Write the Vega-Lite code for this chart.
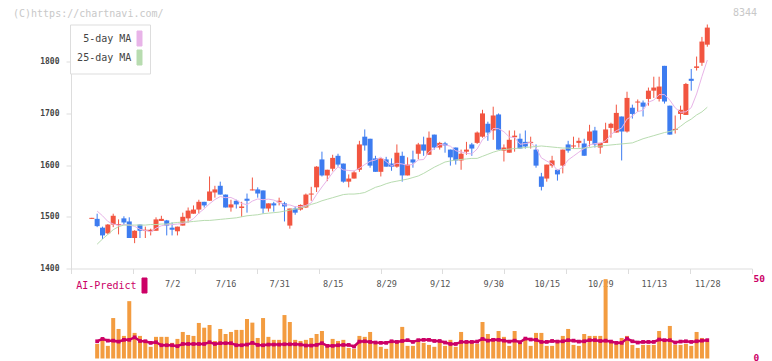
{
"$schema": "https://vega.github.io/schema/vega-lite/v6.json",
"padding": {"left": 13, "top": 7.5, "right": 5, "bottom": 0},
"background": "#ffffff",
"bounds": "flush",
"spacing": 11,
"config": {"view": {"stroke": null}, "font": "DejaVu Sans Mono"},
"resolve": {"scale": {"x": "independent", "y": "independent", "color": "independent"}, "legend": {"color": "independent"}},
"datasets": {"px": [
{"i":0,"d":"2025-06-11","o":1496,"h":1498,"l":1496,"c":1498,"m5":null,"m25":null,"v":null,"a":null},
{"i":1,"d":"2025-06-12","o":1496,"h":1506,"l":1480,"c":1482,"m5":1511,"m25":1447,"v":9.2,"a":10.9},
{"i":2,"d":"2025-06-13","o":1479,"h":1481,"l":1457,"c":1464,"m5":1502,"m25":1457,"v":12.8,"a":12.4},
{"i":3,"d":"2025-06-16","o":1468,"h":1486,"l":1466,"c":1485,"m5":1491,"m25":1466,"v":8.0,"a":11.3},
{"i":4,"d":"2025-06-17","o":1485,"h":1506,"l":1480,"c":1502,"m5":1486.0,"m25":1475,"v":25.6,"a":11.3},
{"i":5,"d":"2025-06-18","o":1484,"h":1495,"l":1466,"c":1486,"m5":1483.6,"m25":1481,"v":18.7,"a":10.7},
{"i":6,"d":"2025-06-19","o":1497,"h":1501,"l":1484,"c":1489,"m5":1485.0,"m25":1484,"v":14.3,"a":11.8},
{"i":7,"d":"2025-06-20","o":1491,"h":1499,"l":1459,"c":1459,"m5":1484.0,"m25":1484,"v":36.3,"a":11.8},
{"i":8,"d":"2025-06-23","o":1459,"h":1474,"l":1449,"c":1473,"m5":1481.6,"m25":1484,"v":16.2,"a":13.4},
{"i":9,"d":"2025-06-24","o":1485,"h":1485,"l":1459,"c":1473,"m5":1475.8,"m25":1484,"v":14.3,"a":11.1},
{"i":10,"d":"2025-06-25","o":1473,"h":1481,"l":1459,"c":1475,"m5":1473.6,"m25":1484,"v":11.8,"a":10.9},
{"i":11,"d":"2025-06-26","o":1472,"h":1477,"l":1464,"c":1475,"m5":1470.8,"m25":1485,"v":7.4,"a":9.9},
{"i":12,"d":"2025-06-27","o":1473,"h":1499,"l":1473,"c":1495,"m5":1478.0,"m25":1485,"v":13.7,"a":10.3},
{"i":13,"d":"2025-06-30","o":1492,"h":1502,"l":1492,"c":1496,"m5":1482.6,"m25":1486,"v":13.7,"a":8.4},
{"i":14,"d":"2025-07-01","o":1493,"h":1494,"l":1464,"c":1483,"m5":1484.6,"m25":1486,"v":13.7,"a":8.4},
{"i":15,"d":"2025-07-02","o":1479,"h":1489,"l":1464,"c":1475,"m5":1484.8,"m25":1488,"v":9.9,"a":8.4},
{"i":16,"d":"2025-07-03","o":1472,"h":1481,"l":1464,"c":1481,"m5":1486.0,"m25":1489,"v":12.4,"a":7.8},
{"i":17,"d":"2025-07-04","o":1483,"h":1508,"l":1483,"c":1500,"m5":1487.0,"m25":1490,"v":16.8,"a":9.2},
{"i":18,"d":"2025-07-07","o":1497,"h":1518,"l":1489,"c":1512,"m5":1490.2,"m25":1490,"v":14.9,"a":9.2},
{"i":19,"d":"2025-07-08","o":1506,"h":1522,"l":1506,"c":1514,"m5":1496.4,"m25":1491,"v":14.3,"a":9.2},
{"i":20,"d":"2025-07-09","o":1514,"h":1533,"l":1506,"c":1529,"m5":1507.2,"m25":1492,"v":22.5,"a":9.2},
{"i":21,"d":"2025-07-10","o":1529,"h":1529,"l":1518,"c":1522,"m5":1515.4,"m25":1493,"v":19.5,"a":9.2},
{"i":22,"d":"2025-07-11","o":1531,"h":1578,"l":1531,"c":1549,"m5":1525.2,"m25":1493,"v":21.2,"a":10.3},
{"i":23,"d":"2025-07-14","o":1547,"h":1560,"l":1537,"c":1553,"m5":1533.4,"m25":1494,"v":11.1,"a":9.2},
{"i":24,"d":"2025-07-15","o":1560,"h":1568,"l":1543,"c":1543,"m5":1539.2,"m25":1495,"v":18.7,"a":9.7},
{"i":25,"d":"2025-07-16","o":1543,"h":1543,"l":1518,"c":1518,"m5":1537.0,"m25":1496,"v":15.5,"a":9.7},
{"i":26,"d":"2025-07-17","o":1518,"h":1533,"l":1510,"c":1524,"m5":1537.4,"m25":1497,"v":16.8,"a":9.7},
{"i":27,"d":"2025-07-18","o":1531,"h":1533,"l":1516,"c":1524,"m5":1532.4,"m25":1498,"v":18.1,"a":8.4},
{"i":28,"d":"2025-07-22","o":1517,"h":1529,"l":1500,"c":1520,"m5":1525.8,"m25":1500,"v":18.1,"a":8.4},
{"i":29,"d":"2025-07-23","o":1535,"h":1545,"l":1508,"c":1531,"m5":1523.4,"m25":1502,"v":25.0,"a":8.8},
{"i":30,"d":"2025-07-24","o":1551,"h":1576,"l":1551,"c":1553,"m5":1530.4,"m25":1503,"v":22.7,"a":9.9},
{"i":31,"d":"2025-07-25","o":1553,"h":1557,"l":1537,"c":1545,"m5":1534.6,"m25":1504,"v":13.0,"a":8.6},
{"i":32,"d":"2025-07-28","o":1551,"h":1551,"l":1506,"c":1516,"m5":1533.0,"m25":1506,"v":25.6,"a":8.4},
{"i":33,"d":"2025-07-29","o":1516,"h":1526,"l":1510,"c":1526,"m5":1534.2,"m25":1507,"v":13.7,"a":8.8},
{"i":34,"d":"2025-07-30","o":1526,"h":1529,"l":1510,"c":1522,"m5":1532.4,"m25":1508,"v":11.8,"a":8.8},
{"i":35,"d":"2025-07-31","o":1528,"h":1537,"l":1522,"c":1531,"m5":1528.0,"m25":1509,"v":11.8,"a":8.8},
{"i":36,"d":"2025-08-01","o":1526,"h":1529,"l":1491,"c":1520,"m5":1523.0,"m25":1511,"v":27.5,"a":9.0},
{"i":37,"d":"2025-08-04","o":1483,"h":1516,"l":1477,"c":1516,"m5":1523.0,"m25":1513,"v":23.1,"a":9.0},
{"i":38,"d":"2025-08-05","o":1516,"h":1520,"l":1504,"c":1508,"m5":1519.4,"m25":1515,"v":11.8,"a":9.0},
{"i":39,"d":"2025-08-06","o":1514,"h":1524,"l":1512,"c":1523,"m5":1519.6,"m25":1517,"v":11.1,"a":8.8},
{"i":40,"d":"2025-08-07","o":1518,"h":1545,"l":1517,"c":1543,"m5":1522.0,"m25":1520,"v":11.8,"a":8.2},
{"i":41,"d":"2025-08-08","o":1543,"h":1558,"l":1531,"c":1545,"m5":1527.0,"m25":1524,"v":13.0,"a":8.2},
{"i":42,"d":"2025-08-12","o":1557,"h":1598,"l":1548,"c":1597,"m5":1543.2,"m25":1527,"v":15.5,"a":8.6},
{"i":43,"d":"2025-08-13","o":1611,"h":1626,"l":1578,"c":1580,"m5":1557.6,"m25":1531,"v":17.4,"a":9.7},
{"i":44,"d":"2025-08-14","o":1580,"h":1591,"l":1569,"c":1591,"m5":1571.2,"m25":1534,"v":9.2,"a":8.0},
{"i":45,"d":"2025-08-15","o":1593,"h":1620,"l":1588,"c":1614,"m5":1585.4,"m25":1537,"v":12.4,"a":8.0},
{"i":46,"d":"2025-08-18","o":1618,"h":1622,"l":1597,"c":1601,"m5":1596.6,"m25":1540,"v":11.1,"a":8.4},
{"i":47,"d":"2025-08-19","o":1603,"h":1603,"l":1566,"c":1568,"m5":1590.8,"m25":1543,"v":11.8,"a":8.6},
{"i":48,"d":"2025-08-20","o":1568,"h":1582,"l":1557,"c":1574,"m5":1589.6,"m25":1544,"v":6.7,"a":8.6},
{"i":49,"d":"2025-08-21","o":1574,"h":1589,"l":1574,"c":1586,"m5":1588.6,"m25":1544,"v":6.1,"a":7.6},
{"i":50,"d":"2025-08-22","o":1591,"h":1647,"l":1587,"c":1640,"m5":1593.8,"m25":1545,"v":14.3,"a":10.7},
{"i":51,"d":"2025-08-25","o":1655,"h":1669,"l":1628,"c":1638,"m5":1601.2,"m25":1547,"v":13.7,"a":10.9},
{"i":52,"d":"2025-08-26","o":1651,"h":1651,"l":1595,"c":1599,"m5":1607.4,"m25":1552,"v":16.8,"a":10.5},
{"i":53,"d":"2025-08-27","o":1613,"h":1618,"l":1587,"c":1587,"m5":1610.0,"m25":1557,"v":9.2,"a":10.1},
{"i":54,"d":"2025-08-28","o":1587,"h":1613,"l":1578,"c":1613,"m5":1615.4,"m25":1560,"v":7.4,"a":9.9},
{"i":55,"d":"2025-08-29","o":1611,"h":1616,"l":1597,"c":1597,"m5":1606.8,"m25":1564,"v":6.1,"a":9.9},
{"i":56,"d":"2025-09-01","o":1603,"h":1613,"l":1589,"c":1597,"m5":1598.6,"m25":1567,"v":10.5,"a":10.9},
{"i":57,"d":"2025-09-02","o":1597,"h":1640,"l":1595,"c":1624,"m5":1603.6,"m25":1569,"v":9.9,"a":10.5},
{"i":58,"d":"2025-09-03","o":1618,"h":1626,"l":1568,"c":1580,"m5":1602.2,"m25":1571,"v":20.0,"a":11.1},
{"i":59,"d":"2025-09-04","o":1580,"h":1615,"l":1580,"c":1601,"m5":1599.8,"m25":1573,"v":8.0,"a":11.6},
{"i":60,"d":"2025-09-05","o":1611,"h":1628,"l":1595,"c":1605,"m5":1601.4,"m25":1576,"v":8.0,"a":10.5},
{"i":61,"d":"2025-09-08","o":1622,"h":1643,"l":1611,"c":1640,"m5":1610.0,"m25":1579,"v":10.5,"a":11.6},
{"i":62,"d":"2025-09-09","o":1640,"h":1655,"l":1618,"c":1628,"m5":1610.8,"m25":1584,"v":9.9,"a":11.8},
{"i":63,"d":"2025-09-10","o":1620,"h":1665,"l":1620,"c":1653,"m5":1625.4,"m25":1590,"v":8.6,"a":11.8},
{"i":64,"d":"2025-09-11","o":1659,"h":1659,"l":1630,"c":1634,"m5":1632.0,"m25":1596,"v":7.4,"a":11.1},
{"i":65,"d":"2025-09-12","o":1634,"h":1645,"l":1630,"c":1643,"m5":1639.6,"m25":1601,"v":10.5,"a":11.1},
{"i":66,"d":"2025-09-16","o":1642,"h":1645,"l":1624,"c":1638,"m5":1639.2,"m25":1606,"v":8.0,"a":10.1},
{"i":67,"d":"2025-09-17","o":1630,"h":1630,"l":1599,"c":1615,"m5":1636.6,"m25":1608,"v":11.8,"a":9.2},
{"i":68,"d":"2025-09-18","o":1634,"h":1634,"l":1601,"c":1609,"m5":1627.8,"m25":1610,"v":7.4,"a":9.2},
{"i":69,"d":"2025-09-19","o":1609,"h":1630,"l":1591,"c":1622,"m5":1625.4,"m25":1611,"v":16.8,"a":10.5},
{"i":70,"d":"2025-09-22","o":1626,"h":1645,"l":1620,"c":1630,"m5":1622.8,"m25":1612,"v":9.9,"a":10.5},
{"i":71,"d":"2025-09-24","o":1640,"h":1643,"l":1618,"c":1632,"m5":1621.6,"m25":1613,"v":9.9,"a":10.5},
{"i":72,"d":"2025-09-25","o":1643,"h":1665,"l":1641,"c":1663,"m5":1631.2,"m25":1613,"v":9.2,"a":10.7},
{"i":73,"d":"2025-09-26","o":1655,"h":1707,"l":1653,"c":1700,"m5":1649.4,"m25":1617,"v":23.1,"a":12.4},
{"i":74,"d":"2025-09-29","o":1680,"h":1684,"l":1647,"c":1663,"m5":1657.6,"m25":1621,"v":15.5,"a":11.3},
{"i":75,"d":"2025-09-30","o":1667,"h":1713,"l":1649,"c":1696,"m5":1670.8,"m25":1625,"v":13.0,"a":11.8},
{"i":76,"d":"2025-10-01","o":1698,"h":1700,"l":1630,"c":1630,"m5":1670.4,"m25":1628,"v":17.4,"a":11.8},
{"i":77,"d":"2025-10-02","o":1628,"h":1640,"l":1607,"c":1634,"m5":1664.6,"m25":1630,"v":13.7,"a":11.3},
{"i":78,"d":"2025-10-03","o":1624,"h":1667,"l":1624,"c":1649,"m5":1654.4,"m25":1631,"v":8.0,"a":10.7},
{"i":79,"d":"2025-10-06","o":1654,"h":1667,"l":1626,"c":1657,"m5":1653.2,"m25":1632,"v":17.4,"a":11.3},
{"i":80,"d":"2025-10-07","o":1651,"h":1661,"l":1632,"c":1632,"m5":1640.4,"m25":1633,"v":9.9,"a":10.3},
{"i":81,"d":"2025-10-08","o":1645,"h":1667,"l":1632,"c":1636,"m5":1641.6,"m25":1634,"v":12.4,"a":12.6},
{"i":82,"d":"2025-10-09","o":1643,"h":1655,"l":1632,"c":1645,"m5":1643.8,"m25":1635,"v":8.0,"a":12.0},
{"i":83,"d":"2025-10-10","o":1630,"h":1640,"l":1595,"c":1599,"m5":1633.8,"m25":1636,"v":16.2,"a":11.8},
{"i":84,"d":"2025-10-14","o":1578,"h":1585,"l":1551,"c":1558,"m5":1614.0,"m25":1637,"v":16.2,"a":10.5},
{"i":85,"d":"2025-10-15","o":1574,"h":1601,"l":1568,"c":1601,"m5":1607.8,"m25":1636,"v":8.0,"a":10.5},
{"i":86,"d":"2025-10-16","o":1599,"h":1618,"l":1595,"c":1609,"m5":1602.4,"m25":1635,"v":8.0,"a":11.1},
{"i":87,"d":"2025-10-17","o":1591,"h":1591,"l":1570,"c":1582,"m5":1589.8,"m25":1634,"v":9.9,"a":10.7},
{"i":88,"d":"2025-10-20","o":1599,"h":1630,"l":1584,"c":1630,"m5":1596.0,"m25":1633,"v":14.3,"a":10.9},
{"i":89,"d":"2025-10-21","o":1640,"h":1647,"l":1624,"c":1628,"m5":1610.0,"m25":1633,"v":18.7,"a":11.6},
{"i":90,"d":"2025-10-22","o":1636,"h":1655,"l":1632,"c":1638,"m5":1617.4,"m25":1632,"v":8.6,"a":11.3},
{"i":91,"d":"2025-10-23","o":1643,"h":1653,"l":1634,"c":1647,"m5":1625.0,"m25":1632,"v":8.0,"a":10.7},
{"i":92,"d":"2025-10-24","o":1642,"h":1651,"l":1618,"c":1618,"m5":1632.2,"m25":1633,"v":15.5,"a":10.9},
{"i":93,"d":"2025-10-27","o":1647,"h":1678,"l":1636,"c":1665,"m5":1639.2,"m25":1634,"v":14.3,"a":11.6},
{"i":94,"d":"2025-10-28","o":1667,"h":1674,"l":1634,"c":1640,"m5":1641.6,"m25":1636,"v":14.3,"a":11.6},
{"i":95,"d":"2025-10-29","o":1634,"h":1643,"l":1622,"c":1643,"m5":1642.6,"m25":1637,"v":14.3,"a":11.1},
{"i":96,"d":"2025-10-30","o":1643,"h":1682,"l":1643,"c":1669,"m5":1647.0,"m25":1638,"v":50.2,"a":11.3},
{"i":97,"d":"2025-10-31","o":1672,"h":1682,"l":1653,"c":1680,"m5":1659.4,"m25":1639,"v":9.9,"a":10.7},
{"i":98,"d":"2025-11-04","o":1663,"h":1717,"l":1663,"c":1701,"m5":1666.6,"m25":1640,"v":9.2,"a":9.9},
{"i":99,"d":"2025-11-05","o":1694,"h":1694,"l":1609,"c":1665,"m5":1671.6,"m25":1641,"v":13.0,"a":9.9},
{"i":100,"d":"2025-11-06","o":1665,"h":1742,"l":1663,"c":1730,"m5":1689.0,"m25":1642,"v":14.3,"a":12.6},
{"i":101,"d":"2025-11-07","o":1711,"h":1717,"l":1690,"c":1699,"m5":1695.0,"m25":1643,"v":8.6,"a":10.9},
{"i":102,"d":"2025-11-10","o":1721,"h":1727,"l":1703,"c":1723,"m5":1703.6,"m25":1647,"v":6.7,"a":10.1},
{"i":103,"d":"2025-11-11","o":1721,"h":1725,"l":1694,"c":1713,"m5":1706.0,"m25":1651,"v":8.6,"a":10.5},
{"i":104,"d":"2025-11-12","o":1728,"h":1750,"l":1715,"c":1744,"m5":1721.8,"m25":1654,"v":8.6,"a":10.5},
{"i":105,"d":"2025-11-13","o":1744,"h":1771,"l":1730,"c":1750,"m5":1725.8,"m25":1657,"v":8.6,"a":10.5},
{"i":106,"d":"2025-11-14","o":1728,"h":1771,"l":1723,"c":1752,"m5":1736.4,"m25":1660,"v":17.4,"a":12.0},
{"i":107,"d":"2025-11-17","o":1792,"h":1792,"l":1719,"c":1723,"m5":1736.4,"m25":1663,"v":11.8,"a":11.6},
{"i":108,"d":"2025-11-18","o":1715,"h":1715,"l":1659,"c":1659,"m5":1725.6,"m25":1665,"v":20.6,"a":11.6},
{"i":109,"d":"2025-11-19","o":1668,"h":1696,"l":1661,"c":1670,"m5":1710.8,"m25":1668,"v":8.6,"a":10.1},
{"i":110,"d":"2025-11-20","o":1699,"h":1715,"l":1688,"c":1707,"m5":1702.2,"m25":1675,"v":8.6,"a":10.7},
{"i":111,"d":"2025-11-21","o":1697,"h":1759,"l":1697,"c":1757,"m5":1703.2,"m25":1683,"v":9.2,"a":10.9},
{"i":112,"d":"2025-11-25","o":1767,"h":1786,"l":1744,"c":1763,"m5":1711.2,"m25":1689,"v":8.0,"a":10.5},
{"i":113,"d":"2025-11-26","o":1788,"h":1810,"l":1783,"c":1791,"m5":1737.6,"m25":1697,"v":16.8,"a":10.9},
{"i":114,"d":"2025-11-27","o":1798,"h":1848,"l":1792,"c":1839,"m5":1771.4,"m25":1703,"v":13.0,"a":11.3},
{"i":115,"d":"2025-11-28","o":1833,"h":1872,"l":1829,"c":1866,"m5":1803.2,"m25":1712,"v":10.5,"a":11.6}
]},
"vconcat": [
{
 "width": 681, "height": 244,
 "data": {"name": "px"},
 "title": {"text": "(C)https://chartnavi.com/", "anchor": "start", "frame": "group", "dx": -58, "offset": 5.5, "fontSize": 10, "font": "DejaVu Sans Mono", "fontWeight": "normal", "color": "#c8c8c8"},
 "resolve": {"axis": {"x": "independent"}},
 "layer": [
  {"mark": {"type": "rule", "strokeWidth": 1},
   "encoding": {
    "x": {"field": "i", "type": "quantitative", "scale": {"domain": [-3.886, 123.351], "nice": false, "zero": false, "padding": 0},
          "axis": {"orient": "bottom", "values": [-3.886, 7.681, 19.248, 30.815, 42.382, 53.949, 65.516, 77.083, 88.65, 100.217, 111.784, 123.351], "labels": false, "ticks": true, "tickSize": 5, "tickColor": "#dddddd", "domain": true, "domainColor": "#dddddd", "grid": false, "title": null}},
    "y": {"field": "l", "type": "quantitative", "scale": {"domain": [1400, 1872], "nice": false, "zero": false, "padding": 0},
          "axis": {"values": [1400, 1500, 1600, 1700, 1800], "format": "d", "tickSize": 5, "tickColor": "#dddddd", "domainColor": "#dddddd", "labelPadding": 7, "labelFontSize": 8, "labelFontWeight": "bold", "labelColor": "#444444", "labelFont": "DejaVu Sans Mono", "grid": false, "title": null}},
    "y2": {"field": "h"},
    "color": {"condition": {"test": "datum.c >= datum.o", "value": "#f25540"}, "value": "#3d7cf0"}
   }},
  {"mark": {"type": "bar", "width": 5},
   "encoding": {
    "x": {"field": "i", "type": "quantitative",
          "axis": {"orient": "bottom", "values": [15, 25, 35, 45, 55, 65, 75, 85, 95, 105, 115], "labelExpr": "['7/2','7/16','7/31','8/15','8/29','9/12','9/30','10/15','10/29','11/13','11/28'][round((datum.value-15)/10)]", "ticks": false, "tickSize": 0, "domain": false, "grid": false, "title": null, "labelPadding": 11, "labelFontSize": 8.5, "labelColor": "#555555", "labelFont": "DejaVu Sans Mono"}},
    "y": {"field": "o", "type": "quantitative", "title": null},
    "y2": {"field": "c"},
    "color": {"condition": {"test": "datum.c >= datum.o", "value": "#f25540"}, "value": "#3d7cf0"}
   }},
  {"mark": {"type": "line", "strokeWidth": 1},
   "encoding": {
    "x": {"field": "i", "type": "quantitative", "axis": null},
    "y": {"field": "m5", "type": "quantitative", "title": null},
    "color": {"datum": "5-day MA", "type": "nominal",
      "scale": {"domain": ["5-day MA", "25-day MA"], "range": ["#e8b4e8", "#b8dcb0"]},
      "legend": {"orient": "none", "legendX": -1, "legendY": 0, "direction": "vertical", "title": null,
        "symbolType": "M-0.333,-1H0.333V1H-0.333Z", "symbolSize": 225, "symbolStrokeWidth": 1,
        "labelAlign": "right", "labelOffset": -16.2, "symbolOffset": 55.5, "labelFontSize": 10, "labelFont": "DejaVu Sans Mono", "labelColor": "#444444", "labelLimit": 0,
        "fillColor": "#ffffff", "strokeColor": "#dddddd", "padding": 6, "rowPadding": -1,
        "encode": {"symbols": {"update": {"fill": {"signal": "datum.value === '5-day MA' ? '#e8b4e8' : '#b8dcb0'"}, "stroke": {"value": "#555555"}, "strokeWidth": {"value": 1}, "opacity": {"value": 1}}}}}}
   }},
  {"mark": {"type": "line", "strokeWidth": 1},
   "encoding": {
    "x": {"field": "i", "type": "quantitative", "axis": null},
    "y": {"field": "m25", "type": "quantitative", "title": null},
    "color": {"datum": "25-day MA", "type": "nominal"}
   }}
 ]
},
{
 "width": 681, "height": 79,
 "data": {"name": "px"},
 "title": {"text": "8344", "anchor": "end", "frame": "group", "dx": 5, "dy": -255.5, "offset": 0, "fontSize": 10, "font": "DejaVu Sans Mono", "fontWeight": "normal", "color": "#c8c8c8"},
 "layer": [
  {"mark": {"type": "bar", "width": 4, "color": "#f39c40"},
   "encoding": {
    "x": {"field": "i", "type": "quantitative", "scale": {"domain": [-3.886, 123.351], "nice": false, "zero": false, "padding": 0}, "axis": null},
    "y": {"field": "v", "type": "quantitative", "scale": {"domain": [0, 50], "nice": false, "padding": 0},
          "axis": {"orient": "right", "values": [0, 10, 20, 30, 40, 50], "domain": false, "ticks": false, "grid": false, "labelPadding": 1, "labelOffset": -1.5, "labelColor": "#cc0066", "labelFontWeight": "bold", "labelFontSize": 9.5, "labelFont": "DejaVu Sans Mono", "title": null}}
   }},
  {"mark": {"type": "line", "strokeWidth": 2.5, "point": {"shape": "square", "size": 14, "filled": true}},
   "encoding": {
    "x": {"field": "i", "type": "quantitative"},
    "y": {"field": "a", "type": "quantitative", "title": null},
    "color": {"datum": "AI-Predict", "type": "nominal", "scale": {"domain": ["AI-Predict"], "range": ["#cc0066"]},
      "legend": {"orient": "none", "legendX": 3, "legendY": -2, "direction": "vertical", "title": null,
        "symbolType": "M-0.333,-1H0.333V1H-0.333Z", "symbolSize": 225, "symbolStrokeWidth": 1,
        "labelAlign": "right", "labelOffset": -16, "symbolOffset": 62.5, "labelFontSize": 10, "labelFont": "DejaVu Sans Mono", "labelColor": "#cc0066", "labelLimit": 0, "padding": 0,
        "encode": {"symbols": {"update": {"fill": {"value": "#cc0066"}, "stroke": {"value": "#cc0066"}, "strokeWidth": {"value": 1}, "opacity": {"value": 1}}}}}}
   }}
 ]
}
]
}
